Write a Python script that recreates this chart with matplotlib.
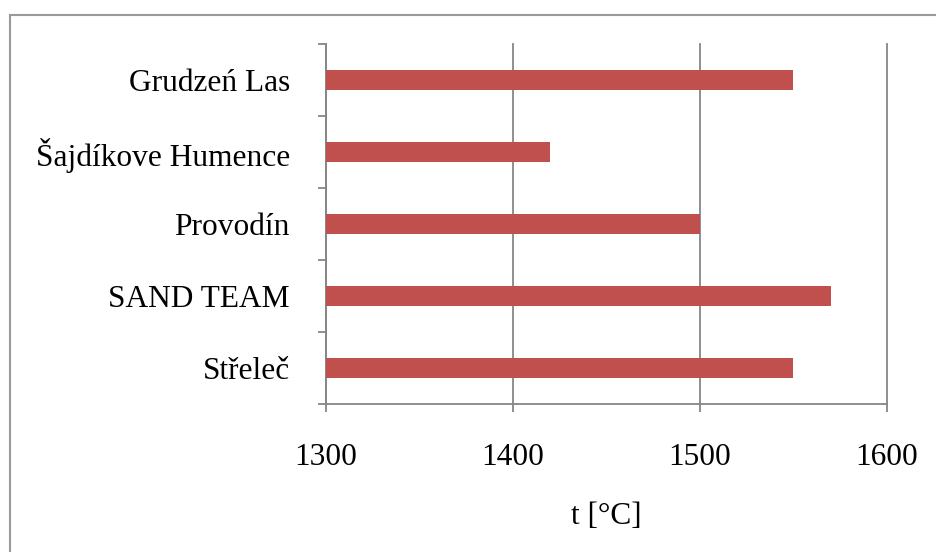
import matplotlib.pyplot as plt
from matplotlib.patches import Rectangle

plt.rcParams['font.family'] = ['Liberation Serif', 'DejaVu Serif']

categories = ['Střeleč', 'SAND TEAM', 'Provodín', 'Šajdíkove Humence', 'Grudzeń Las']
temps = [1550, 1570, 1500, 1420, 1550]
x_ticks = [1300, 1400, 1500, 1600]

grey = '#868686'
bar_color = '#C0504D'
fs = 22.6

fig = plt.figure(figsize=(9.36, 5.52), dpi=100)
ax = fig.add_axes([326/936, 1 - 404/552, 561/936, 360/552])

# outer chart frame (runs off the right and bottom edge like the original)
fig.patches.append(Rectangle((10/936, -0.05), 1.0, 1 - 15/552 + 0.05,
                             transform=fig.transFigure, fill=False,
                             edgecolor='#9a9a9a', linewidth=1.5))

ypos = list(range(len(categories)))
base = x_ticks[0]
ax.barh(ypos, [t - base for t in temps], left=base, height=0.29,
        color=bar_color, zorder=3)

ax.set_xlim(1300, 1600)
ax.set_ylim(-0.5, len(categories) - 0.5)
ax.set_xticks(x_ticks)
ax.set_xticklabels([str(v) for v in x_ticks], fontsize=fs)
ax.set_yticks(ypos)
ax.set_yticklabels(categories, fontsize=fs)
ax.set_yticks([i - 0.5 for i in range(len(categories) + 1)], minor=True)

ax.tick_params(axis='y', which='major', length=0, pad=26)
ax.tick_params(axis='y', which='minor', length=6, width=1.3, color=grey, direction='out')
ax.tick_params(axis='x', which='major', length=6, width=1.3, color=grey, direction='out', pad=22)

ax.grid(axis='x', color=grey, linewidth=1.3, zorder=0)
ax.set_axisbelow(True)
for gl in ax.get_xgridlines():
    gl.set_clip_on(False)

for side in ['top', 'right']:
    ax.spines[side].set_visible(False)
for side in ['left', 'bottom']:
    ax.spines[side].set_color(grey)
    ax.spines[side].set_linewidth(1.3)

ax.set_xlabel('t [°C]', fontsize=fs, labelpad=22)

fig.savefig('out.png', dpi=100)
